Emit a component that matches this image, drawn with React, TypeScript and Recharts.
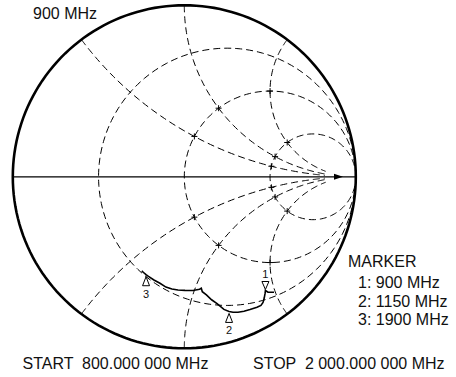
import { ComposedChart, Line, Scatter, XAxis, YAxis } from 'recharts'

// smith chart grid values
const resistanceCircles = [1 / 3, 1, 3]
const reactanceArcs = [0.5, 1, 2, -0.5, -1, -2]
const crossCircles = [1, 3]
const arcEndR = 10

// measured trace (reflection coeff. re / im), sweep 800 -> 2000 MHz
const traceRe = [
  0.523, 0.488, 0.473, 0.471, 0.466, 0.459, 0.447, 0.424, 0.383, 0.348, 0.313,
  0.284, 0.261, 0.231, 0.191, 0.159, 0.129, 0.105, 0.099, 0.089, 0.051, 0.004,
  -0.037, -0.072, -0.107, -0.142, -0.177, -0.209, -0.223, -0.238, -0.248,
]
const traceIm = [
  -0.673, -0.673, -0.663, -0.68, -0.707, -0.733, -0.75, -0.761, -0.774, -0.784,
  -0.79, -0.79, -0.785, -0.773, -0.739, -0.717, -0.689, -0.67, -0.65, -0.656,
  -0.663, -0.662, -0.66, -0.654, -0.643, -0.621, -0.602, -0.581, -0.571, -0.558,
  -0.549,
]

const markerIds = ['1', '2', '3']
const markerFreqs = ['900 MHz', '1150 MHz', '1900 MHz']
const markerIndex = [2, 12, 28]
const markerSide = ['above', 'below', 'below']

const topLabel = '900 MHz'
const startLabel = 'START  800.000 000 MHz'
const stopLabel = 'STOP  2 000.000 000 MHz'

const clamp = (v: number) => Math.max(-1, Math.min(1, v))

function gamma(r: number, x: number) {
  const d = (r + 1) * (r + 1) + x * x
  return { x: clamp((r * r - 1 + x * x) / d), y: clamp((2 * x) / d) }
}

function circlePoints(cx: number, rad: number) {
  const pts = []
  for (let k = 0; k <= 180; k++) {
    const t = (2 * Math.PI * k) / 180
    pts.push({ x: clamp(cx + rad * Math.cos(t)), y: clamp(rad * Math.sin(t)) })
  }
  return pts
}

function arcPoints(x: number) {
  const pts = []
  const n = 120
  for (let k = 0; k <= n; k++) pts.push(gamma(arcEndR * Math.pow(k / n, 3), x))
  return pts
}

const trace = traceRe.map((re, i) => ({ x: re, y: traceIm[i] }))
const markers = markerIndex.map((idx, i) => ({
  x: traceRe[idx],
  y: traceIm[idx],
  id: markerIds[i],
  side: markerSide[i],
}))
const crosses = crossCircles.flatMap((r) => reactanceArcs.map((x) => gamma(r, x)))
const arrow = [{ x: 0.902, y: 0 }]
const axisLine = [
  { x: -1, y: 0 },
  { x: 1, y: 0 },
]

const font = "'Liberation Sans', Arial, Helvetica, sans-serif"

const MarkerShape = (props: any) => {
  const { cx, cy, payload } = props
  if (payload.side === 'above') {
    return (
      <g>
        <path d={`M${cx},${cy - 1} L${cx - 3.5},${cy - 9} L${cx + 3.5},${cy - 9} Z`} fill="#fff" stroke="#000" strokeWidth={1} />
        <text x={cx} y={cy - 13} textAnchor="middle" fontSize={11} fontFamily={font} fill="#111">
          {payload.id}
        </text>
      </g>
    )
  }
  return (
    <g>
      <path d={`M${cx},${cy + 2} L${cx - 3.5},${cy + 11} L${cx + 3.5},${cy + 11} Z`} fill="#fff" stroke="#000" strokeWidth={1} />
      <text x={cx} y={cy + 23} textAnchor="middle" fontSize={11} fontFamily={font} fill="#111">
        {payload.id}
      </text>
    </g>
  )
}

const CrossShape = (props: any) => {
  const { cx, cy } = props
  return <path d={`M${cx - 3},${cy} H${cx + 3} M${cx},${cy - 3} V${cy + 3}`} stroke="#000" strokeWidth={1} />
}

const ArrowShape = (props: any) => {
  const { cx, cy } = props
  return <path d={`M${cx - 5},${cy - 3} L${cx + 4},${cy} L${cx - 5},${cy + 3} Z`} fill="#000" />
}

const textStyle = { whiteSpace: 'pre' as const }

export default function App() {
  return (
    <div style={{ position: 'absolute', left: 0, top: 0, width: 456, height: 377, background: '#fff' }}>
      <ComposedChart width={456} height={377} margin={{ top: 5.3, right: 100.2, bottom: 28.7, left: 12.8 }}>
        <XAxis type="number" dataKey="x" domain={[-1, 1]} hide />
        <YAxis type="number" dataKey="y" domain={[-1, 1]} hide />
        {resistanceCircles.map((r) => (
          <Line
            key={'r' + r}
            data={circlePoints(r / (1 + r), 1 / (1 + r))}
            dataKey="y"
            type="linear"
            stroke="#000"
            strokeWidth={1}
            strokeDasharray="7 4"
            dot={false}
            activeDot={false}
            isAnimationActive={false}
          />
        ))}
        {reactanceArcs.map((x) => (
          <Line
            key={'x' + x}
            data={arcPoints(x)}
            dataKey="y"
            type="linear"
            stroke="#000"
            strokeWidth={1}
            strokeDasharray="7 4"
            dot={false}
            activeDot={false}
            isAnimationActive={false}
          />
        ))}
        <Line data={axisLine} dataKey="y" type="linear" stroke="#000" strokeWidth={1.2} dot={false} activeDot={false} isAnimationActive={false} />
        <Line
          data={circlePoints(0, 1)}
          dataKey="y"
          type="linear"
          stroke="#000"
          strokeWidth={2.6}
          dot={false}
          activeDot={false}
          isAnimationActive={false}
        />
        <Scatter data={crosses} shape={CrossShape} isAnimationActive={false} />
        <Scatter data={arrow} shape={ArrowShape} isAnimationActive={false} />
        <Line data={trace} dataKey="y" type="linear" stroke="#000" strokeWidth={1.6} dot={false} activeDot={false} isAnimationActive={false} />
        <Scatter data={markers} shape={MarkerShape} isAnimationActive={false} />
      </ComposedChart>
      <svg width={456} height={377} style={{ position: 'absolute', left: 0, top: 0, pointerEvents: 'none' }}>
        <g fontFamily={font} fontSize={16} fill="#111">
          <text x={33} y={18.5} xmlSpace="preserve" style={textStyle}>{topLabel}</text>
          <text x={348} y={267} xmlSpace="preserve" style={textStyle}>MARKER</text>
          {markerIds.map((id, i) => (
            <text key={id} x={358} y={288 + i * 18.5} xmlSpace="preserve" style={textStyle}>
              {`${id}: ${markerFreqs[i]}`}
            </text>
          ))}
          <text x={22.5} y={369} xmlSpace="preserve" style={textStyle}>{startLabel}</text>
          <text x={253} y={369} xmlSpace="preserve" style={textStyle}>{stopLabel}</text>
        </g>
      </svg>
    </div>
  )
}
